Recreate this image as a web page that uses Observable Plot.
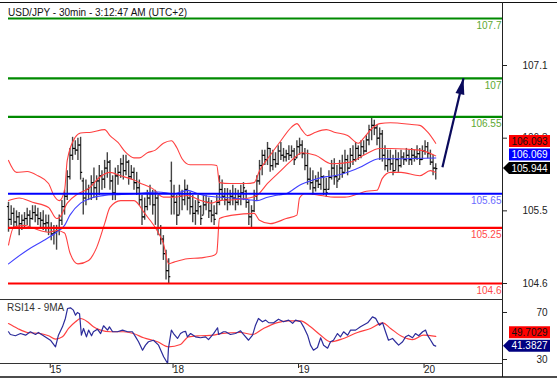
<!DOCTYPE html>
<html>
<head>
<meta charset="utf-8">
<script src="https://cdn.jsdelivr.net/npm/d3@7"></script>
<script src="https://cdn.jsdelivr.net/npm/@observablehq/plot@0.6"></script>
<style>
html,body{margin:0;padding:0;background:#fff;}
#wrap{position:relative;width:557px;height:380px;overflow:hidden;font-family:"Liberation Sans",Arial,sans-serif;}
#wrap > svg{position:absolute;left:0;}
</style>
</head>
<body>
<div id="wrap"></div>
<script>
// ---------- DATA ----------
const title = "USD/JPY - 30min - 3:12:47 AM (UTC+2)";
const rsiTitle = "RSI14 - 9MA";

// 30-min OHLC bars (bar index = position in array)
const high = [
105.55,105.51,105.48,105.45,105.43,105.40,105.43,105.48,105.45,105.51,
105.51,105.48,105.43,105.45,105.40,105.40,105.31,105.28,105.28,105.40,
105.57,105.69,105.92,106.18,106.31,106.27,106.30,106.31,105.83,105.81,
105.75,105.86,105.95,105.86,105.98,105.92,106.04,106.13,106.04,105.86,
105.95,105.98,106.06,106.10,106.10,106.04,105.98,105.95,105.90,105.81,
105.63,105.60,105.69,105.75,105.69,105.69,105.63,105.28,105.16,104.99,
104.89,106.02,105.75,105.63,105.75,105.69,105.81,105.75,105.67,105.63,
105.57,105.63,105.51,105.63,105.63,105.60,105.57,105.51,105.63,105.86,
105.81,105.71,105.71,105.69,105.75,105.71,105.69,105.75,105.78,105.69,
105.57,105.51,105.69,105.86,106.04,106.16,106.16,106.25,106.18,106.16,
106.13,106.21,106.25,106.18,106.16,106.21,106.21,106.18,106.27,106.30,
106.27,106.18,106.16,105.95,105.92,105.86,105.90,105.95,105.86,105.83,
105.92,106.04,106.06,105.98,106.04,106.10,106.16,106.10,106.18,106.21,
106.25,106.21,106.27,106.27,106.33,106.45,106.54,106.51,106.45,106.42,
106.39,106.21,106.16,106.16,106.10,106.16,106.13,106.16,106.13,106.18,
106.16,106.18,106.16,106.21,106.18,106.21,106.27,106.25,106.16,106.10,
106.00];
const low = [
105.20,105.28,105.25,105.25,105.16,105.22,105.25,105.28,105.25,105.34,
105.31,105.28,105.25,105.22,105.20,105.16,105.10,105.05,104.99,105.16,
105.28,105.40,105.57,105.81,106.04,106.10,106.04,105.81,105.40,105.51,
105.57,105.57,105.60,105.57,105.63,105.69,105.71,105.83,105.69,105.57,
105.57,105.75,105.83,105.81,105.86,105.75,105.81,105.69,105.63,105.51,
105.28,105.34,105.45,105.51,105.40,105.28,105.16,105.05,104.87,104.64,
104.60,105.40,105.40,105.28,105.40,105.45,105.51,105.45,105.40,105.31,
105.28,105.40,105.28,105.40,105.45,105.36,105.31,105.28,105.40,105.51,
105.57,105.51,105.45,105.51,105.51,105.45,105.51,105.51,105.57,105.48,
105.28,105.25,105.43,105.57,105.75,105.86,105.98,105.98,105.90,105.92,
105.95,105.98,106.04,106.02,106.02,106.04,106.06,105.98,106.06,106.10,
106.06,105.92,105.75,105.69,105.63,105.67,105.71,105.69,105.63,105.61,
105.69,105.81,105.75,105.71,105.81,105.83,105.90,105.86,105.95,105.98,
106.02,106.04,106.06,106.10,106.13,106.21,106.27,106.33,106.21,106.04,
106.02,105.92,105.90,105.92,105.86,105.92,105.90,105.95,105.98,106.02,
105.98,105.98,106.02,106.04,105.98,106.04,106.10,106.06,105.98,105.86,
105.81];
const open = [
105.50,105.35,105.42,105.32,105.38,105.30,105.34,105.36,105.40,105.36,
105.43,105.40,105.36,105.34,105.30,105.31,105.25,105.18,105.20,105.22,
105.34,105.50,105.62,105.85,106.10,106.18,106.16,106.22,105.80,105.60,
105.70,105.65,105.78,105.72,105.80,105.86,105.82,105.95,106.02,105.80,
105.66,105.86,105.90,106.00,105.92,106.02,105.85,105.90,105.78,105.72,
105.58,105.38,105.50,105.60,105.65,105.52,105.60,105.25,105.12,104.95,
104.75,105.80,105.62,105.55,105.40,105.62,105.58,105.70,105.60,105.50,
105.42,105.45,105.50,105.40,105.52,105.55,105.45,105.40,105.42,105.55,
105.70,105.62,105.58,105.55,105.62,105.60,105.55,105.62,105.66,105.68,
105.55,105.38,105.45,105.62,105.80,105.98,106.10,106.05,106.18,105.98,
106.05,106.00,106.15,106.10,106.08,106.12,106.10,106.15,106.07,106.20,
106.22,106.12,105.98,105.82,105.78,105.72,105.80,105.76,105.85,105.70,
105.70,105.84,105.95,105.85,105.82,105.95,105.90,106.05,105.95,106.10,
106.05,106.18,106.10,106.20,106.15,106.28,106.40,106.45,106.42,106.30,
106.35,106.10,105.98,106.05,106.00,105.92,106.05,105.98,106.08,106.05,
106.10,106.05,106.10,106.08,106.12,106.05,106.15,106.20,106.12,106.02,
105.95];
const close = [
105.35,105.42,105.32,105.38,105.30,105.34,105.36,105.40,105.36,105.43,
105.40,105.36,105.34,105.30,105.31,105.25,105.18,105.20,105.22,105.34,
105.50,105.62,105.85,106.10,106.18,106.16,106.22,105.90,105.60,105.70,
105.65,105.78,105.72,105.80,105.86,105.82,105.95,106.02,105.80,105.66,
105.86,105.90,106.00,105.92,106.02,105.85,105.90,105.78,105.72,105.58,
105.38,105.50,105.60,105.65,105.52,105.60,105.25,105.12,104.95,104.75,
104.68,105.62,105.55,105.40,105.62,105.58,105.70,105.60,105.50,105.42,
105.45,105.55,105.36,105.52,105.55,105.45,105.40,105.35,105.55,105.70,
105.62,105.58,105.55,105.62,105.60,105.55,105.62,105.66,105.72,105.55,
105.38,105.45,105.62,105.80,105.98,106.10,106.05,106.18,105.98,106.05,
106.00,106.15,106.10,106.08,106.12,106.10,106.15,106.05,106.20,106.22,
106.12,105.98,105.82,105.78,105.72,105.80,105.76,105.85,105.70,105.66,
105.84,105.95,105.85,105.80,105.95,105.90,106.05,105.95,106.10,106.05,
106.18,106.10,106.20,106.15,106.28,106.40,106.45,106.42,106.30,106.35,
106.10,105.98,106.05,106.00,105.92,106.05,105.98,106.08,106.05,106.10,
106.05,106.10,106.08,106.12,106.05,106.15,106.20,106.12,106.02,105.95,
105.944];

// Bollinger bands (red) and moving average (blue), read at bar positions
const bbUpX = [0,3,7,11,15,17,19,21,22,25,27,31,36,38,41,44,47,49,52,55,58,61,63,65,68,72,76,78,79,83,89,92,94,98,102,106,108,110,112,115,119,122,127,131,133,136,139,143,151,154,157,160];
const bbUpV = [106.04,105.90,105.91,105.86,105.77,105.63,105.57,105.69,106.04,106.31,106.36,106.37,106.40,106.33,106.25,106.13,106.07,106.07,106.13,106.16,106.24,106.27,106.19,106.06,105.99,105.99,105.99,105.98,105.78,105.77,105.77,105.78,105.92,106.10,106.27,106.43,106.47,106.39,106.33,106.37,106.40,106.37,106.33,106.24,106.30,106.41,106.47,106.48,106.46,106.45,106.37,106.24];
const bbMidX = [0,4,9,15,18,19,22,26,30,34,38,42,47,49,54,58,62,67,72,76,79,84,90,93,97,102,106,110,115,121,128,133,139,143,154,160];
const bbMidV = [105.57,105.60,105.55,105.49,105.36,105.37,105.54,105.65,105.71,105.84,105.90,105.86,105.81,105.78,105.71,105.61,105.61,105.63,105.57,105.54,105.57,105.58,105.60,105.63,105.77,105.92,106.04,106.13,106.10,106.00,106.02,106.10,106.18,106.18,106.16,106.093];
const bbLowX = [0,2,6,9,15,18,21,23,26,30,33,36,38,42,47,51,56,58,60,62,67,72,77,78,79,84,92,94,98,104,108,109,111,117,122,126,131,134,138,140,143,147,154,158,160];
const bbLowV = [105.05,105.26,105.28,105.25,105.20,105.22,105.19,104.96,104.83,104.87,105.02,105.30,105.49,105.57,105.57,105.42,105.20,105.07,104.83,104.85,104.89,104.90,104.93,104.96,105.36,105.40,105.42,105.34,105.30,105.36,105.40,105.60,105.65,105.63,105.61,105.61,105.65,105.68,105.69,105.83,105.90,105.90,105.86,105.92,105.90];
const maX = [0,7,13,18,21,23,27,31,36,41,47,56,62,67,71,75,79,84,90,93,97,102,104,109,114,119,122,131,139,146,160];
const maV = [104.83,104.99,105.10,105.20,105.28,105.40,105.54,105.60,105.63,105.64,105.65,105.67,105.65,105.69,105.65,105.62,105.61,105.60,105.58,105.57,105.61,105.64,105.65,105.75,105.81,105.85,105.86,105.95,106.06,106.06,106.069];

// Support / resistance levels
const levels = [107.7, 107, 106.55, 105.65, 105.25, 104.6];
const levelLabels = ["107.7","107","106.55","105.65","105.25","104.6"];
const levelKinds = ["res","res","res","pivot","sup","sup"];

// Forecast arrow (bar position, price)
const arrowX = [162.5, 170.4];
const arrowY = [105.96, 107.0];

// Price axis ticks
const yTicks = [107.15, 106.3, 105.45, 104.6];
const yTickLabels = ["107.1","106.3","105.5","104.6"];

// Day ticks
const dayTicks = [14.5, 60.5, 107.5, 154.5];
const dayLabels = ["15","18","19","20"];

// RSI(14) and its 9-period MA
const rsiX = [
0,0.7,2.6,4.5,6.4,8.2,10.1,11.2,13.1,15.7,
17.6,18.7,20.2,21.3,22.1,23.2,24.3,25.1,25.8,26.6,
27.3,28.1,29.2,30.0,31.1,31.8,33.3,34.5,35.6,37.1,
37.8,39.0,40.8,42.7,44.6,46.4,47.6,48.7,50.2,51.3,
52.4,54.3,56.2,58.1,59.6,59.9,61.0,61.8,63.3,64.4,
65.5,66.3,67.0,68.2,70.0,71.9,73.8,74.9,76.8,78.3,
78.7,80.5,81.3,83.1,85.0,86.9,88.0,89.9,91.4,92.5,
93.6,95.1,96.3,97.4,99.3,101.1,103.0,104.9,106.4,107.5,
109.4,110.5,112.0,113.1,114.2,115.7,116.9,118.0,119.5,120.6,
121.7,123.2,124.3,125.5,127.0,128.1,130.0,131.8,134.5,136.3,
137.5,138.9,140.1,141.2,142.3,143.8,144.9,146.1,147.6,148.7,
149.8,151.3,152.4,153.6,155.1,156.2,156.9,158.1,159.2,160];
const rsiV = [
53.6,51.3,50.2,52.1,50.7,53.6,51.3,53.0,50.2,46.4,
40.8,50.7,57.8,64.9,73.4,74.0,72.0,67.7,70.0,69.0,
50.7,56.4,49.3,55.0,50.2,53.6,55.8,52.1,58.7,55.0,
57.8,53.6,53.6,55.0,53.6,53.6,49.3,45.1,37.9,42.2,
45.1,46.4,42.2,32.3,26.6,39.4,55.0,52.1,47.9,52.1,
53.6,54.0,49.3,52.1,49.3,48.5,49.3,46.9,52.1,57.0,
51.3,53.6,53.6,51.3,52.1,54.4,51.3,46.4,50.7,59.2,
64.9,62.1,63.5,61.4,61.2,64.3,62.1,63.5,60.8,63.5,
62.1,57.8,50.7,42.2,37.9,40.2,48.5,42.2,39.6,45.1,
46.4,52.1,49.3,53.6,50.7,55.0,55.0,57.8,61.2,66.3,
65.0,59.2,61.2,53.6,46.4,47.9,45.1,42.2,45.1,49.3,
50.7,48.5,52.1,50.2,53.6,55.0,50.7,46.4,42.2,41.3827];
const rsiMaX = [0,3.4,7.1,12,15,17.6,20.2,22.5,25.1,27,29.6,31.8,34.5,38.2,43.1,46.8,50.6,55.8,59.9,64.4,67.4,71.9,76.8,79.4,86.9,91.4,95.5,100.7,104.5,109.4,113.1,116.9,120.6,125.5,130.7,135.6,140.1,143.1,147.6,151.3,155.4,160];
const rsiMaV = [60.6,56.4,53.0,52.1,50.2,47.3,49.3,56.4,62.1,64.9,62.1,57.8,55.0,53.6,53.6,52.1,48.5,45.1,40.8,42.8,49.3,50.2,50.7,52.1,53.0,51.3,56.4,61.4,62.9,62.9,57.8,50.7,45.1,47.9,53.0,56.4,61.2,56.4,49.3,46.9,50.7,49.7029];
const rsiTicks = [70, 30];

// ---------- BUILD ----------
const FONT = '"Liberation Sans", Arial, sans-serif';
const bars = high.map((h, i) => ({i, high: h, low: low[i], open: open[i], close: close[i]}));
const pts = (xs, vs) => xs.map((x, k) => ({x, v: vs[k]}));
const levelData = levels.map((v, k) => ({v, label: levelLabels[k], kind: levelKinds[k]}));
const lineColor = {res: "#008a00", pivot: "#0000ff", sup: "#ff0000"};
const textColor = {res: "#5ea832", pivot: "#6b6bff", sup: "#ff4a4a"};
const arrowData = [{x1: arrowX[0], y1: arrowY[0], x2: arrowX[1], y2: arrowY[1]}];
const headSymbol = {draw(ctx) { ctx.moveTo(0, 0); ctx.lineTo(-4.5, 16); ctx.lineTo(4.5, 16); ctx.closePath(); }};
const xDomain = [0, 185];
const bandStyle = {x: "x", y: "v", stroke: "#ff4040", strokeWidth: 1.1, curve: "monotone-x"};

const wrap = document.getElementById("wrap");

const main = Plot.plot({
  width: 557, height: 300,
  marginLeft: 8, marginRight: 55, marginTop: 2, marginBottom: 1,
  x: {domain: xDomain, axis: null},
  y: {domain: [104.413, 107.887], axis: null},
  color: {type: "identity"},
  style: {fontFamily: FONT, fontSize: "10px", background: "transparent", overflow: "visible"},
  marks: [
    Plot.ruleX(bars, {x: "i", y1: "low", y2: "high", stroke: "#444", strokeWidth: 1.4}),
    Plot.link(bars, {x1: d => d.i - 0.6, x2: "i", y1: "open", y2: "open", stroke: "#000", strokeWidth: 1.2}),
    Plot.link(bars, {x1: "i", x2: d => d.i + 0.6, y1: "close", y2: "close", stroke: "#000", strokeWidth: 1.2}),
    Plot.line(pts(bbUpX, bbUpV), bandStyle),
    Plot.line(pts(bbMidX, bbMidV), bandStyle),
    Plot.line(pts(bbLowX, bbLowV), bandStyle),
    Plot.line(pts(maX, maV), {x: "x", y: "v", stroke: "#4040ff", strokeWidth: 1.1, curve: "monotone-x"}),
    Plot.ruleY(levelData, {y: "v", stroke: d => lineColor[d.kind], strokeWidth: 2.2}),
    Plot.text(levelData, {y: "v", text: "label", frameAnchor: "right", textAnchor: "end", dx: -1, dy: 7, fill: d => textColor[d.kind], fontSize: 10}),
    Plot.link(arrowData, {x1: "x1", y1: "y1", x2: "x2", y2: "y2", stroke: "#0a0a5c", strokeWidth: 2.2}),
    Plot.dot(arrowData, {x: "x2", y: "y2", symbol: headSymbol, r: 5, fill: "#0a0a5c", stroke: "none", rotate: 13}),
    Plot.axisY({anchor: "right", label: null, ticks: yTicks, tickFormat: d => yTickLabels[yTicks.indexOf(d)], tickSize: 4, tickPadding: 41, textAnchor: "end", fill: "#222", fontSize: 10, stroke: "#222"})
  ]
});
main.style.top = "0px";
wrap.appendChild(main);

const rsiPlot = Plot.plot({
  width: 557, height: 81,
  marginLeft: 8, marginRight: 55, marginTop: 0, marginBottom: 17,
  x: {domain: xDomain, axis: null},
  y: {domain: [26.6, 81.06], axis: null},
  style: {fontFamily: FONT, fontSize: "10px", background: "transparent", overflow: "visible"},
  marks: [
    Plot.line(pts(rsiMaX, rsiMaV), {x: "x", y: "v", stroke: "#ff4040", strokeWidth: 1.2, curve: "monotone-x"}),
    Plot.line(pts(rsiX, rsiV), {x: "x", y: "v", stroke: "#2b2b9a", strokeWidth: 1.2}),
    Plot.axisY({anchor: "right", label: null, ticks: rsiTicks, tickFormat: d => String(d), tickSize: 4, tickPadding: 41, textAnchor: "end", fill: "#222", fontSize: 10, stroke: "#222"}),
    Plot.axisX({anchor: "bottom", label: null, ticks: dayTicks, tickFormat: d => dayLabels[dayTicks.indexOf(d)], tickSize: 5, tickPadding: -3, textAnchor: "start", dx: 3, fill: "#222", fontSize: 10, stroke: "#222"})
  ]
});
rsiPlot.style.top = "299px";
wrap.appendChild(rsiPlot);

// ---------- chrome + last-value boxes ----------
const ov = d3.select(wrap).append("svg")
  .attr("width", 557).attr("height", 380)
  .style("top", "0px").style("font-family", FONT);
const ln = (x1, y1, x2, y2, c, w) => ov.append("line").attr("x1", x1).attr("y1", y1).attr("x2", x2).attr("y2", y2).attr("stroke", c).attr("stroke-width", w);
ln(0, 2.5, 557, 2.5, "#111", 1);
ln(502.5, 2, 502.5, 377, "#222", 1);
ln(0, 299.5, 502.5, 299.5, "#333", 1);
ln(0, 363.5, 502.5, 363.5, "#333", 1);
ln(0, 377, 557, 377, "#111", 1.5);
ov.append("text").attr("x", 8).attr("y", 16).attr("font-size", 10).attr("fill", "#111").text(title);
ov.append("text").attr("x", 7).attr("y", 311).attr("font-size", 10).attr("fill", "#333").text(rsiTitle);

function valueBoxes(items, yScale, yOff, fmt) {
  const placed = items.map(it => ({...it, y: yScale.apply(it.v) + yOff}));
  placed.sort((a, b) => b.y - a.y);
  for (let k = 1; k < placed.length; k++) placed[k].y = Math.min(placed[k].y, placed[k - 1].y - 13.5);
  for (const p of placed) {
    const c = p.y, h = 6;
    const path = p.arrow
      ? `M503,${c}L509,${c - h}L550,${c - h}L550,${c + h}L509,${c + h}Z`
      : `M509,${c - h}L550,${c - h}L550,${c + h}L509,${c + h}Z`;
    ov.append("path").attr("d", path).attr("fill", p.fill);
    ov.append("text").attr("x", 529.5).attr("y", c).attr("dy", "0.36em").attr("text-anchor", "middle")
      .attr("font-size", 10).attr("fill", p.color).text(fmt(p.v));
  }
}
const yMain = main.scale("y");
valueBoxes([
  {v: close[close.length - 1], fill: "#000", color: "#fff", arrow: true},
  {v: maV[maV.length - 1], fill: "#0000ff", color: "#fff"},
  {v: bbMidV[bbMidV.length - 1], fill: "#ff0000", color: "#111"}
], yMain, 0, v => v.toFixed(3));
const yRsi = rsiPlot.scale("y");
valueBoxes([
  {v: rsiV[rsiV.length - 1], fill: "#000080", color: "#fff", arrow: true},
  {v: rsiMaV[rsiMaV.length - 1], fill: "#ff0000", color: "#111"}
], yRsi, 299, v => v.toFixed(4));
</script>
</body>
</html>
